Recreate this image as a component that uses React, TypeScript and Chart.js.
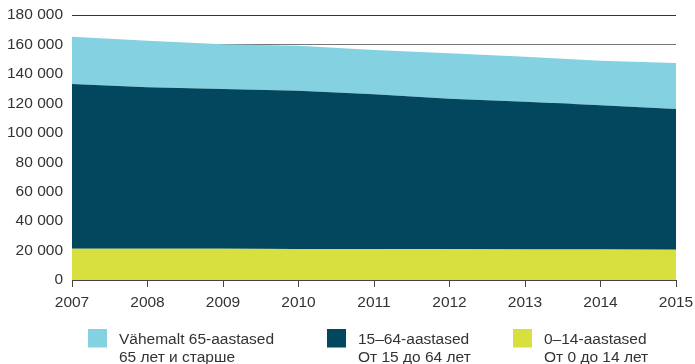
import React, { useEffect, useRef } from "react";
import { Chart, registerables } from "chart.js";

Chart.register(...registerables);

const years = ["2007", "2008", "2009", "2010", "2011", "2012", "2013", "2014", "2015"];
const age0to14 = [21300, 21200, 21200, 21100, 21000, 20900, 20800, 20700, 20600];
const age15to64 = [111800, 109700, 108500, 107500, 105100, 102200, 100300, 98000, 95500];
const age65plus = [32200, 31600, 30500, 30500, 30100, 30900, 30600, 30300, 31300];

const legendLine1 = ["Vähemalt 65-aastased", "15–64-aastased", "0–14-aastased"];
const legendLine2 = ["65 лет и старше", "От 15 до 64 лет", "От 0 до 14 лет"];

const COLOR_65 = "#84D1E1";
const COLOR_15 = "#03475F";
const COLOR_0 = "#D8E040";
const TEXT = "#333333";
const FONT_FAMILY = "'Liberation Sans', Arial, sans-serif";

const fmt = (v: number) => String(v).replace(/\B(?=(\d{3})+(?!\d))/g, " ");

const legendPlugin = {
  id: "twoLineLegend",
  afterDraw(chart: any) {
    const ctx = chart.ctx;
    const items = [
      { color: COLOR_65, x: 88, l1: legendLine1[0], l2: legendLine2[0] },
      { color: COLOR_15, x: 327, l1: legendLine1[1], l2: legendLine2[1] },
      { color: COLOR_0, x: 513, l1: legendLine1[2], l2: legendLine2[2] },
    ];
    ctx.save();
    ctx.font = `15.5px ${FONT_FAMILY}`;
    ctx.textBaseline = "alphabetic";
    ctx.textAlign = "left";
    for (const it of items) {
      ctx.fillStyle = it.color;
      ctx.fillRect(it.x, 329, 19, 18.5);
      ctx.fillStyle = TEXT;
      ctx.fillText(it.l1, it.x + 31, 344);
      ctx.fillText(it.l2, it.x + 31, 362);
    }
    ctx.restore();
  },
};

export default function App() {
  const ref = useRef<HTMLCanvasElement | null>(null);
  useEffect(() => {
    document.body.style.margin = "0";
    if (!ref.current) return;
    const chart = new Chart(ref.current, {
      type: "line",
      data: {
        labels: years,
        datasets: [
          {
            label: "0–14-aastased",
            data: age0to14,
            backgroundColor: COLOR_0,
            borderWidth: 0,
            pointRadius: 0,
            fill: "origin",
            tension: 0,
          },
          {
            label: "15–64-aastased",
            data: age15to64,
            backgroundColor: COLOR_15,
            borderWidth: 0,
            pointRadius: 0,
            fill: "-1",
            tension: 0,
          },
          {
            label: "Vähemalt 65-aastased",
            data: age65plus,
            backgroundColor: COLOR_65,
            borderWidth: 0,
            pointRadius: 0,
            fill: "-1",
            tension: 0,
          },
        ],
      },
      options: {
        animation: false,
        responsive: false,
        devicePixelRatio: 1,
        layout: { padding: { top: 15, right: 19, left: 0, bottom: 0 } },
        plugins: {
          legend: { display: false },
          tooltip: { enabled: false },
        },
        scales: {
          x: {
            offset: false,
            grid: {
              drawOnChartArea: false,
              drawTicks: true,
              tickLength: 7,
              tickColor: "#444",
            },
            border: { display: true, color: "#444", width: 1 },
            ticks: {
              color: TEXT,
              font: { family: FONT_FAMILY, size: 15.5 },
              padding: 6,
              maxRotation: 0,
              autoSkip: false,
            },
            afterFit: (s: any) => {
              s.height = 84;
              s.paddingLeft = 0;
              s.paddingRight = 0;
            },
          },
          y: {
            stacked: true,
            min: 0,
            max: 180000,
            grid: {
              drawTicks: false,
              color: (c: any) => (c.tick && c.tick.value === 180000 ? "#333" : "#777"),
              lineWidth: 1,
            },
            border: { display: false },
            ticks: {
              stepSize: 20000,
              color: TEXT,
              font: { family: FONT_FAMILY, size: 15.5 },
              padding: 9,
              callback: (v: any) => fmt(Number(v)),
            },
            afterFit: (s: any) => {
              s.width = 72;
              s.paddingTop = 0;
              s.paddingBottom = 0;
            },
          },
        },
      },
      plugins: [legendPlugin],
    });
    return () => chart.destroy();
  }, []);
  return (
    <div style={{ width: 695, height: 364, background: "#fff" }}>
      <canvas ref={ref} width={695} height={364} />
    </div>
  );
}
